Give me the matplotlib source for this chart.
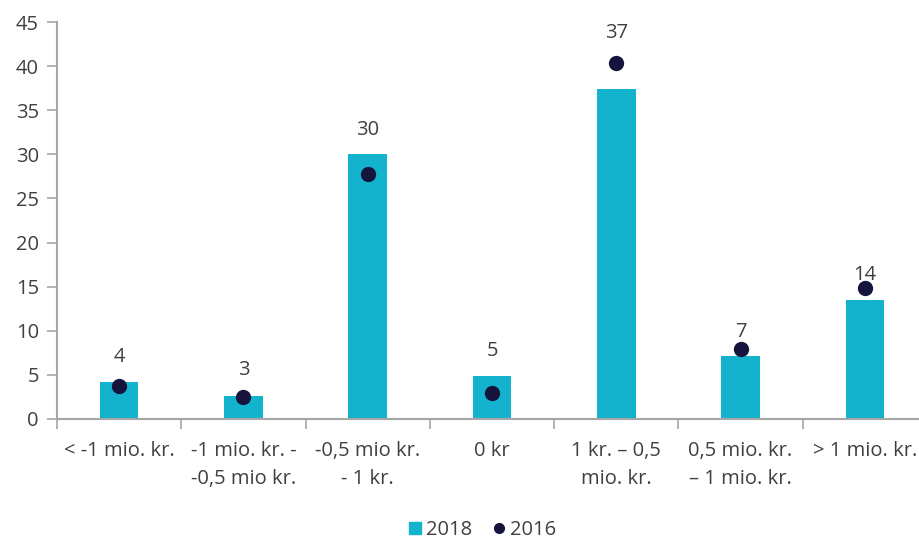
import matplotlib
matplotlib.use("Agg")
import matplotlib.pyplot as plt
from matplotlib.lines import Line2D
import numpy as np

categories = ["< -1 mio. kr.", "-1 mio. kr. -\n-0,5 mio kr.", "-0,5 mio kr.\n- 1 kr.", "0 kr",
              "1 kr. \u2013 0,5\nmio. kr.", "0,5 mio. kr.\n\u2013 1 mio. kr.", "> 1 mio. kr."]
values_2018 = [4.2, 2.6, 30.0, 4.9, 37.4, 7.1, 13.5]
values_2016 = [3.7, 2.5, 27.8, 3.0, 40.3, 7.9, 14.9]
labels_2018 = ["4", "3", "30", "5", "37", "7", "14"]

bar_color = "#13B3CD"
dot_color = "#14143C"
axis_color = "#A6A6A6"
text_color = "#404040"

plt.rcParams['font.family'] = ['Open Sans', 'DejaVu Sans']

fig = plt.figure(figsize=(9.19, 5.41), dpi=100)
ax = fig.add_axes([57/919, 1-419/541, (927-57)/919, (419-22)/541])

x = np.arange(len(categories))
ax.bar(x, values_2018, width=0.31, color=bar_color, zorder=2)
ax.plot(x, values_2016, linestyle="none", marker="o", markersize=10, color=dot_color, zorder=3)

label_offsets = [2.8, 2.9, 2.8, 2.8, 6.4, 2.8, 2.8]
for xi, v, lab, off in zip(x, values_2018, labels_2018, label_offsets):
    ax.text(xi, v + off, lab, ha="center", va="center", fontsize=14.5, color=text_color, zorder=4)

ax.set_xlim(-0.5, len(categories) - 0.5)
ax.set_ylim(0, 45)
ax.set_yticks(np.arange(0, 46, 5))
ax.tick_params(axis="y", colors=axis_color, labelcolor=text_color, labelsize=14.5, length=7, width=1.2, pad=6)

ax.set_xticks(x)
ax.set_xticklabels(categories, fontsize=14.5, color=text_color, linespacing=1.5)
ax.tick_params(axis="x", which="major", length=0, pad=16)
ax.set_xticks(np.arange(-0.5, len(categories), 1), minor=True)
ax.tick_params(axis="x", which="minor", length=7, width=1.2, color=axis_color)

for s in ["top", "right"]:
    ax.spines[s].set_visible(False)
for s in ["left", "bottom"]:
    ax.spines[s].set_color(axis_color)
    ax.spines[s].set_linewidth(1.5)

handles = [Line2D([], [], linestyle="none", marker="s", markersize=9, color=bar_color, label="2018"),
           Line2D([], [], linestyle="none", marker="o", markersize=7, color=dot_color, label="2016")]
fig.legend(handles=handles, loc="center", bbox_to_anchor=(478/919, 1-530/541), ncol=2, frameon=False,
           fontsize=14.5, handletextpad=-0.2, columnspacing=0.6, handlelength=1.5, labelcolor=text_color)

fig.savefig("out.png", dpi=100)
